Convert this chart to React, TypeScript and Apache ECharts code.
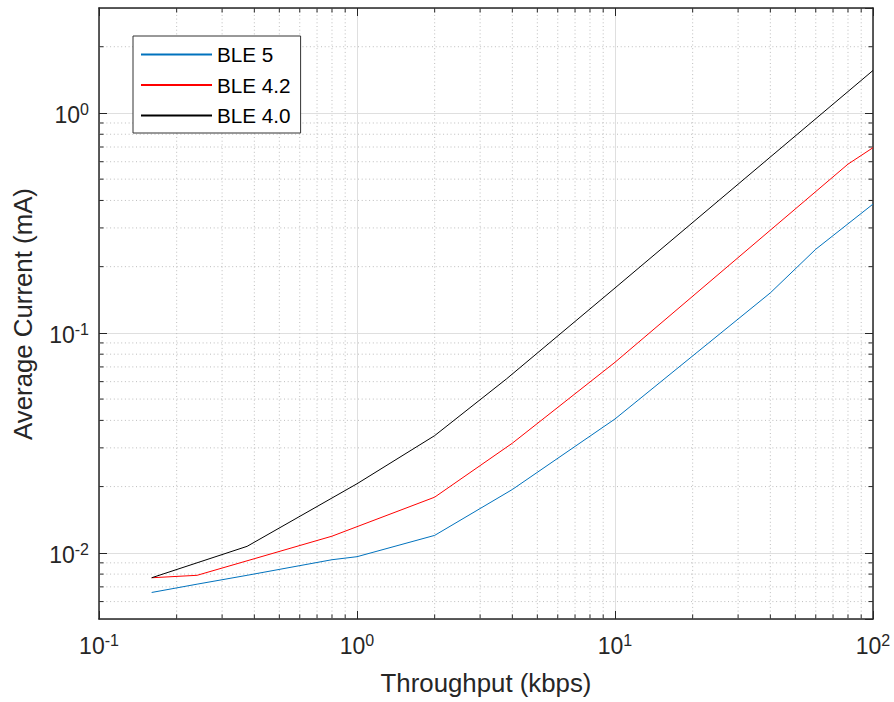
import React, { useEffect, useRef } from 'react';
import * as echarts from 'echarts';

// ---- data ----
const SERIES_NAMES = ['BLE 5', 'BLE 4.2', 'BLE 4.0'];
const SERIES_COLORS = ['#0072BD', '#FF0000', '#000000'];

const BLE5_X = [0.16, 0.24, 0.375, 0.8, 1, 2, 4, 10, 40, 60, 100];
const BLE5_Y = [0.0066, 0.0072, 0.0079, 0.0093, 0.0096, 0.0120, 0.0194, 0.0406, 0.152, 0.24, 0.385];

const BLE42_X = [0.16, 0.24, 0.8, 2, 4, 10, 80, 100];
const BLE42_Y = [0.0077, 0.0079, 0.0119, 0.0179, 0.0315, 0.0735, 0.585, 0.695];

const BLE40_X = [0.16, 0.375, 1, 2, 3.8, 10, 100];
const BLE40_Y = [0.0077, 0.0107, 0.0206, 0.0341, 0.0618, 0.160, 1.56];

const X_MIN = 0.1;
const X_MAX = 100;
const Y_MIN = 0.005;
const Y_MAX = 3;

const X_TITLE = 'Throughput (kbps)';
const Y_TITLE = 'Average Current (mA)';

// log-axis minor tick multipliers and decades
const MINOR_MULT = [2, 3, 4, 5, 6, 7, 8, 9];
const X_DECADES = [0.1, 1, 10];
const Y_DECADES = [0.001, 0.01, 0.1, 1];

const FONT = '"Liberation Sans", Arial, Helvetica, sans-serif';
const AXIS_COLOR = '#262626';
const MAJOR_GRID = '#dfdfdf';
const MINOR_GRID = '#bdbdbd';

function minorValues(decades: number[], lo: number, hi: number): number[] {
  const out: number[] = [];
  decades.forEach((d) => {
    MINOR_MULT.forEach((m) => {
      const v = d * m;
      if (v > lo * 1.0001 && v < hi * 0.9999) out.push(v);
    });
  });
  return out;
}

const X_MINOR = minorValues(X_DECADES, X_MIN, X_MAX);
const Y_MINOR = minorValues(Y_DECADES, Y_MIN, Y_MAX);

function pairs(xs: number[], ys: number[]): number[][] {
  return xs.map((x, i) => [x, ys[i]]);
}

function powLabel(v: number): string {
  const e = Math.round(Math.log10(v));
  if (Math.abs(v / Math.pow(10, e) - 1) > 1e-6) return '';
  return `{b|10}{s|${e}}`;
}

const RICH = {
  b: { fontSize: 23, lineHeight: 23, padding: [4, 0, 0, 0], fontFamily: FONT, color: AXIS_COLOR },
  s: { fontSize: 16, lineHeight: 16, verticalAlign: 'top', fontFamily: FONT, color: AXIS_COLOR },
};

export default function App() {
  const ref = useRef<HTMLDivElement>(null);

  useEffect(() => {
    if (!ref.current) return;
    const chart = echarts.init(ref.current, undefined, { renderer: 'svg' });

    const tickStyle = { color: AXIS_COLOR, width: 1 };
    const axisLine = { show: true, lineStyle: { color: AXIS_COLOR, width: 1.5 } };

    const option: any = {
      animation: false,
      backgroundColor: '#ffffff',
      grid: { left: 99, right: 21, top: 8, bottom: 83, containLabel: false },
      xAxis: [
        {
          type: 'log', logBase: 10, min: X_MIN, max: X_MAX, position: 'bottom',
          axisLine,
          axisTick: { show: true, inside: true, length: 8, lineStyle: tickStyle },
          axisLabel: { show: true, formatter: powLabel, margin: 13, rich: RICH, color: AXIS_COLOR },
          splitLine: { show: true, lineStyle: { color: MAJOR_GRID, width: 1 } },
          minorTick: { show: false },
        },
        {
          type: 'log', logBase: 10, min: X_MIN, max: X_MAX, position: 'top',
          axisLine,
          axisTick: { show: true, inside: true, length: 8, lineStyle: tickStyle },
          axisLabel: { show: false },
          splitLine: { show: false },
        },
      ],
      yAxis: [
        {
          type: 'log', logBase: 10, min: Y_MIN, max: Y_MAX, position: 'left',
          axisLine,
          axisTick: { show: true, inside: true, length: 8, lineStyle: tickStyle },
          axisLabel: { show: true, formatter: powLabel, margin: 10, rich: RICH, color: AXIS_COLOR, showMinLabel: false, showMaxLabel: false },
          splitLine: { show: true, lineStyle: { color: MAJOR_GRID, width: 1 } },
        },
        {
          type: 'log', logBase: 10, min: Y_MIN, max: Y_MAX, position: 'right',
          axisLine,
          axisTick: { show: true, inside: true, length: 8, lineStyle: tickStyle },
          axisLabel: { show: false },
          splitLine: { show: false },
        },
      ],
      legend: {
        data: SERIES_NAMES,
        orient: 'vertical',
        left: 133,
        top: 36,
        padding: [8, 10, 7, 7],
        itemWidth: 71,
        itemHeight: 20,
        itemGap: 9.5,
        itemStyle: { opacity: 0 },
        backgroundColor: '#ffffff',
        borderColor: '#333333',
        borderWidth: 1,
        borderRadius: 0,
        textStyle: { fontSize: 20.7, lineHeight: 20, color: '#000000', fontFamily: FONT },
      },
      graphic: [
        {
          type: 'text', x: 486, y: 683,
          style: { text: X_TITLE, font: `25.8px ${FONT}`, fill: AXIS_COLOR, textAlign: 'center', textVerticalAlign: 'middle' },
          silent: true,
        },
        {
          type: 'text', x: 23, y: 314, rotation: Math.PI / 2,
          style: { text: Y_TITLE, font: `25.8px ${FONT}`, fill: AXIS_COLOR, textAlign: 'center', textVerticalAlign: 'middle' },
          silent: true,
        },
      ],
      series: [
        {
          type: 'custom', name: 'x-minor', silent: true, z: 1,
          xAxisIndex: 0, yAxisIndex: 0,
          data: X_MINOR.map((v) => [v, Y_MIN]),
          renderItem: (_p: any, api: any) => {
            const v = api.value(0);
            const b = api.coord([v, Y_MIN]);
            const t = api.coord([v, Y_MAX]);
            return {
              type: 'group',
              children: [
                { type: 'line', shape: { x1: b[0], y1: b[1], x2: t[0], y2: t[1] }, style: { stroke: MINOR_GRID, lineWidth: 1, lineDash: [1, 2.7] } },
                { type: 'line', shape: { x1: b[0], y1: b[1], x2: b[0], y2: b[1] - 4.5 }, style: { stroke: AXIS_COLOR, lineWidth: 1 } },
                { type: 'line', shape: { x1: t[0], y1: t[1], x2: t[0], y2: t[1] + 4.5 }, style: { stroke: AXIS_COLOR, lineWidth: 1 } },
              ],
            };
          },
        },
        {
          type: 'custom', name: 'y-minor', silent: true, z: 1,
          xAxisIndex: 0, yAxisIndex: 0,
          data: Y_MINOR.map((v) => [X_MIN, v]),
          renderItem: (_p: any, api: any) => {
            const v = api.value(1);
            const l = api.coord([X_MIN, v]);
            const r = api.coord([X_MAX, v]);
            return {
              type: 'group',
              children: [
                { type: 'line', shape: { x1: l[0], y1: l[1], x2: r[0], y2: r[1] }, style: { stroke: MINOR_GRID, lineWidth: 1, lineDash: [1, 2.7] } },
                { type: 'line', shape: { x1: l[0], y1: l[1], x2: l[0] + 4.5, y2: l[1] }, style: { stroke: AXIS_COLOR, lineWidth: 1 } },
                { type: 'line', shape: { x1: r[0], y1: r[1], x2: r[0] - 4.5, y2: r[1] }, style: { stroke: AXIS_COLOR, lineWidth: 1 } },
              ],
            };
          },
        },
        {
          type: 'line', name: SERIES_NAMES[0], data: pairs(BLE5_X, BLE5_Y), symbol: 'none', z: 3,
          color: SERIES_COLORS[0], lineStyle: { color: SERIES_COLORS[0], width: 1 },
        },
        {
          type: 'line', name: SERIES_NAMES[1], data: pairs(BLE42_X, BLE42_Y), symbol: 'none', z: 3,
          color: SERIES_COLORS[1], lineStyle: { color: SERIES_COLORS[1], width: 1 },
        },
        {
          type: 'line', name: SERIES_NAMES[2], data: pairs(BLE40_X, BLE40_Y), symbol: 'none', z: 3,
          color: SERIES_COLORS[2], lineStyle: { color: SERIES_COLORS[2], width: 1 },
        },
      ],
    };

    chart.setOption(option);
    return () => chart.dispose();
  }, []);

  return (
    <div
      ref={ref}
      style={{ position: 'fixed', left: 0, top: 0, width: 894, height: 702, background: '#ffffff' }}
    />
  );
}
